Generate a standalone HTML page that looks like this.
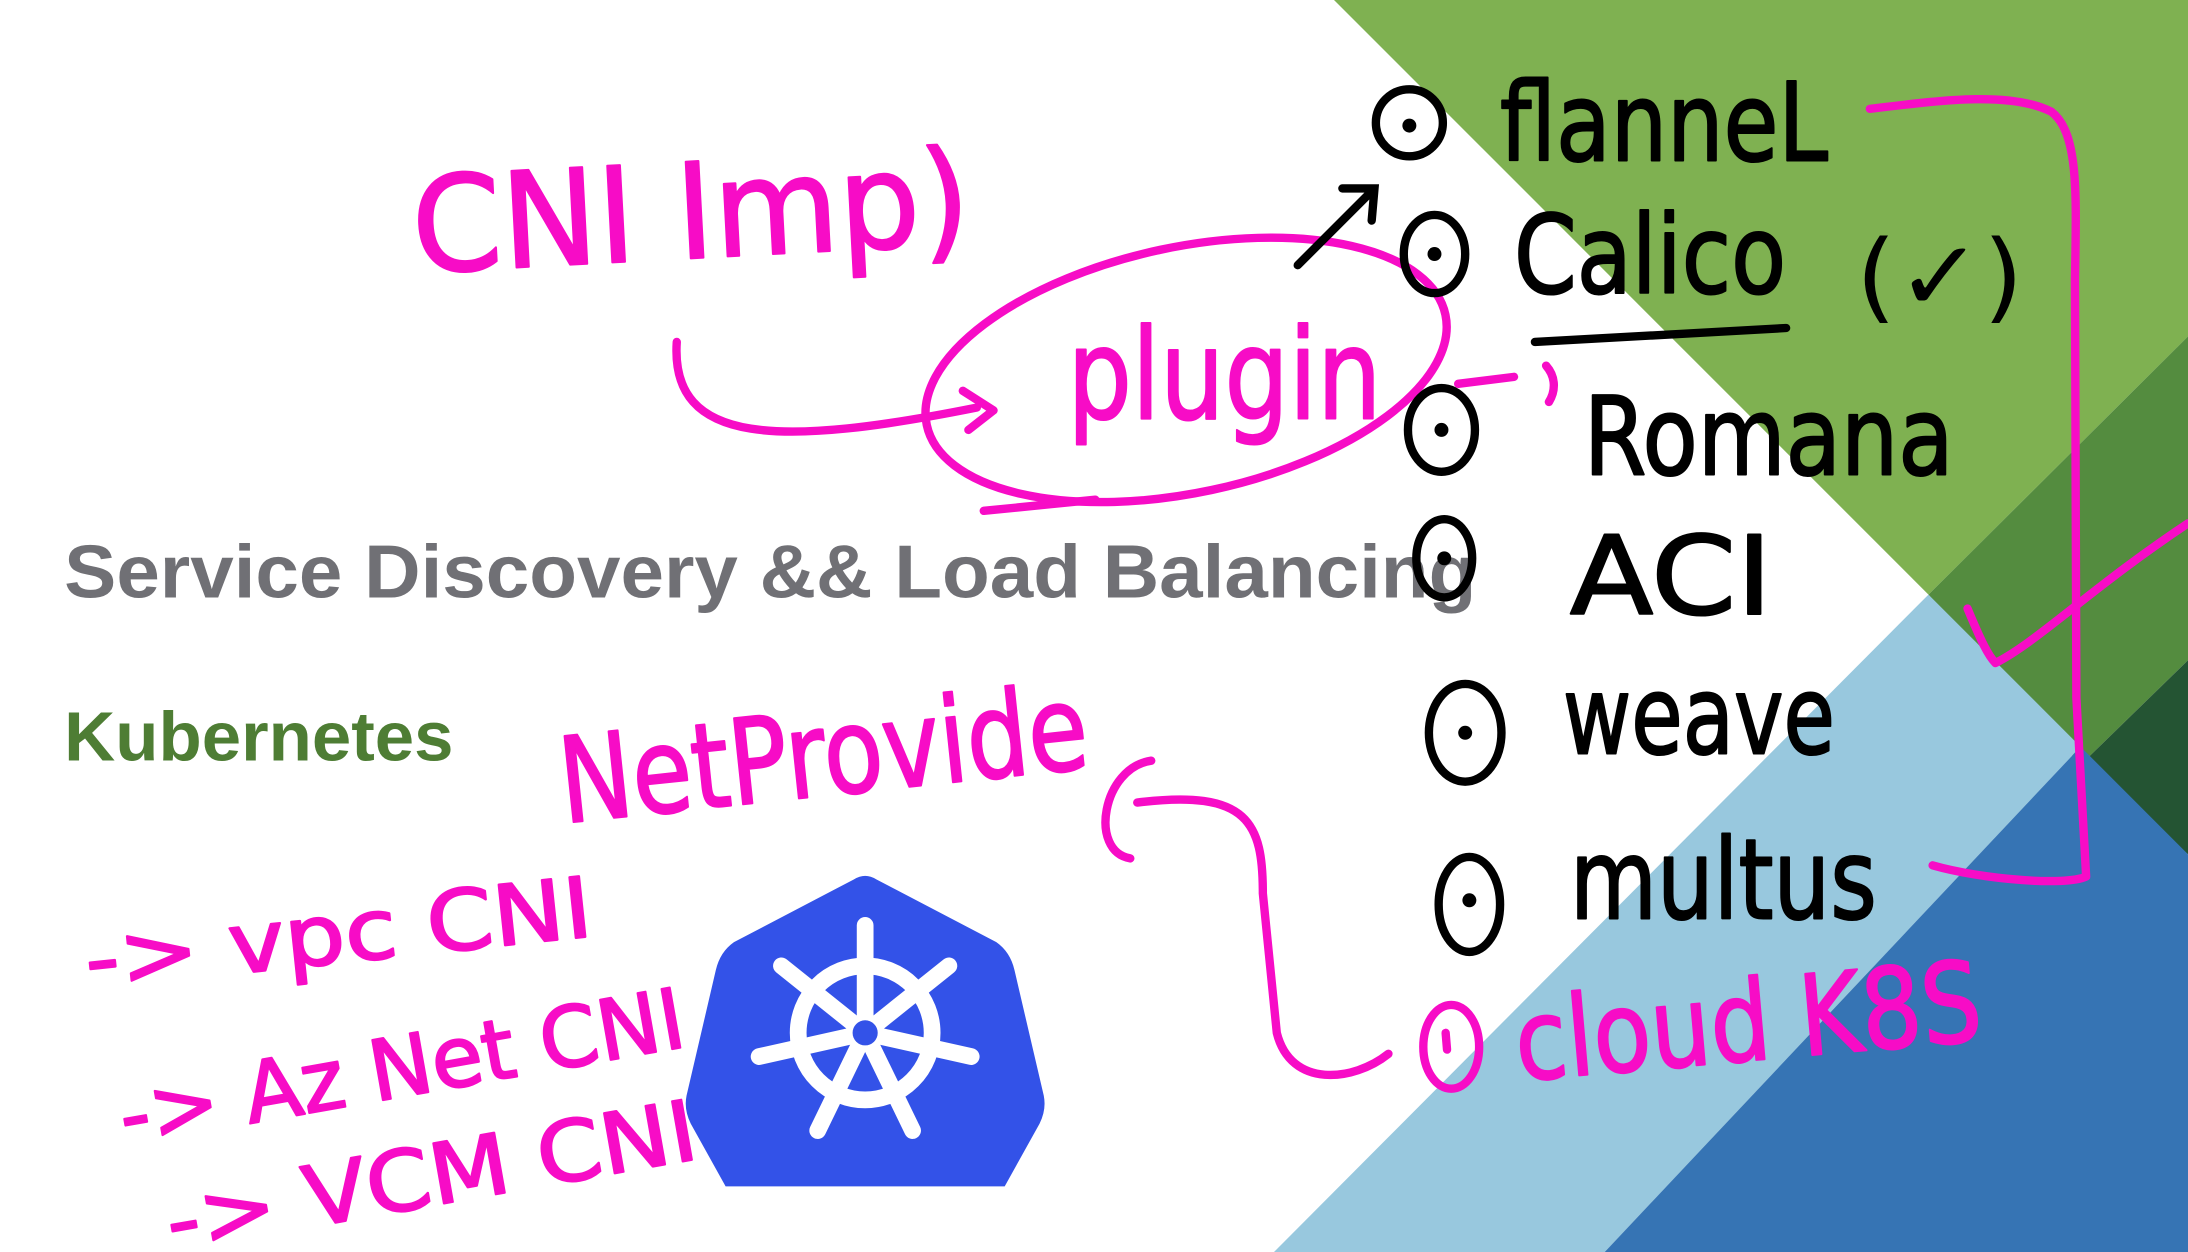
<!DOCTYPE html>
<html><head><meta charset="utf-8"><style>
html,body{margin:0;padding:0;background:#fff;}
svg{display:block;}
.hw{font-family:"DejaVu Sans","Liberation Sans",sans-serif;stroke-linejoin:round;stroke-linecap:round;}
</style></head><body>
<svg width="2188" height="1252" viewBox="0 0 1568 897" preserveAspectRatio="none" xmlns="http://www.w3.org/2000/svg">
<rect width="1568" height="897" fill="#fff"/>
<polygon points="956,0 1568,0 1568,241 1382,426" fill="#7fb151"/>
<polygon points="1382,426 1568,241 1568,473 1491,548" fill="#548c3f"/>
<polygon points="1491,548 1568,473 1568,612" fill="#245433"/>
<polygon points="1382,426 1491,535 1150,897 913,897" fill="#98c8de"/>
<polygon points="1491,535 1568,612 1568,897 1150,897" fill="#3674b4"/>

<text x="46" y="428" font-family="Liberation Sans,sans-serif" font-weight="bold" font-size="54" fill="#707075" textLength="1012" lengthAdjust="spacingAndGlyphs">Service Discovery &amp;&amp; Load Balancing</text>
<text x="46" y="545" font-family="Liberation Sans,sans-serif" font-weight="bold" font-size="50" fill="#4e7d34" textLength="279" lengthAdjust="spacingAndGlyphs">Kubernetes</text>

<!-- k8s logo -->
<path d="M612,630 Q620,625 628,630 L714,675 Q724,682 727,695 L748,785 Q750,795 745,805 L720,850 L520,850 L495,805 Q490,795 492,785 L513,695 Q516,682 526,675 Z" fill="#3352e8"/>
<g stroke="#fff" stroke-width="12" fill="none" stroke-linecap="round">
<circle cx="620" cy="740" r="48"/>
<line x1="620" y1="740" x2="620" y2="663"/>
<line x1="620" y1="740" x2="680" y2="692"/>
<line x1="620" y1="740" x2="696" y2="757"/>
<line x1="620" y1="740" x2="654" y2="810"/>
<line x1="620" y1="740" x2="586" y2="810"/>
<line x1="620" y1="740" x2="544" y2="757"/>
<line x1="620" y1="740" x2="560" y2="692"/>
</g>
<circle cx="620" cy="740" r="9" fill="#3352e8"/>

<!-- magenta strokes -->
<g fill="none" stroke="#f70cc6" stroke-width="6" stroke-linecap="round" stroke-linejoin="round">
<path d="M485,245 C480,320 560,320 700,292 M690,280 L712,294 L694,308"/>
<ellipse cx="850" cy="265" rx="190" ry="88" transform="rotate(-12 850 265)"/>
<path d="M705,366 L785,358"/>
<path d="M1045,275 L1085,270 M1108,262 C1115,270 1115,280 1110,288"/>
<path d="M1340,78 C1390,72 1440,65 1470,80 C1490,95 1488,140 1487,200 L1488,500 L1495,628 C1480,635 1420,630 1385,620"/>
<path d="M1410,436 C1420,460 1425,470 1430,475 C1460,460 1500,420 1568,375"/>
<path d="M825,545 C790,550 780,610 810,615 M815,575 C895,565 905,590 905,640 L915,740 C925,780 970,775 995,755"/>
<ellipse cx="1040" cy="750" rx="20" ry="30"/>
<path d="M1036,740 L1037,752"/>
</g>
<g class="hw" fill="#f70cc6" stroke="#f70cc6" stroke-width="1.5">
<text x="295" y="185" font-size="95" textLength="400" lengthAdjust="spacingAndGlyphs" transform="rotate(-3 495 150)">CNI Imp)</text>
<text x="765" y="300" font-size="90" textLength="225" lengthAdjust="spacingAndGlyphs">plugin</text>
<text x="400" y="570" font-size="85" textLength="380" lengthAdjust="spacingAndGlyphs" transform="rotate(-6 590 540)">NetProvide</text>
<text x="60" y="690" font-size="60" textLength="365" lengthAdjust="spacingAndGlyphs" transform="rotate(-6 240 670)">-&gt; vpc CNI</text>
<text x="82" y="785" font-size="60" textLength="410" lengthAdjust="spacingAndGlyphs" transform="rotate(-10 290 760)">-&gt; Az Net CNI</text>
<text x="115" y="865" font-size="60" textLength="385" lengthAdjust="spacingAndGlyphs" transform="rotate(-10 300 835)">-&gt; VCM CNI</text>
<text x="1085" y="760" font-size="80" textLength="335" lengthAdjust="spacingAndGlyphs" transform="rotate(-5 1250 730)">cloud K8S</text>
</g>

<!-- black strokes -->
<g fill="none" stroke="#000" stroke-width="6" stroke-linecap="round">
<path d="M930,190 L985,135 M962,135 L985,135 L983,158"/>
<ellipse cx="1010" cy="88" rx="24" ry="24"/>
<ellipse cx="1028" cy="182" rx="22" ry="28"/>
<ellipse cx="1033" cy="308" rx="24" ry="30"/>
<ellipse cx="1035" cy="400" rx="20" ry="28"/>
<ellipse cx="1050" cy="525" rx="26" ry="35"/>
<ellipse cx="1053" cy="648" rx="22" ry="34"/>
<path d="M1100,245 L1280,235"/>
</g>
<g fill="#000">
<circle cx="1010" cy="90" r="5"/><circle cx="1028" cy="182" r="5"/><circle cx="1033" cy="308" r="5"/>
<circle cx="1035" cy="400" r="5"/><circle cx="1050" cy="525" r="5"/><circle cx="1053" cy="645" r="5"/>
</g>
<g class="hw" fill="#000" stroke="#000" stroke-width="1.5">
<text x="1075" y="115" font-size="78" textLength="235" lengthAdjust="spacingAndGlyphs">flanneL</text>
<text x="1085" y="210" font-size="78" textLength="195" lengthAdjust="spacingAndGlyphs">Calico</text>
<text x="1330" y="222" font-size="70" font-weight="normal" stroke-width="0" textLength="120" lengthAdjust="spacingAndGlyphs">(✓)</text>
<text x="1135" y="340" font-size="78" textLength="265" lengthAdjust="spacingAndGlyphs">Romana</text>
<text x="1125" y="440" font-size="78" textLength="145" lengthAdjust="spacingAndGlyphs">ACI</text>
<text x="1120" y="540" font-size="78" textLength="195" lengthAdjust="spacingAndGlyphs">weave</text>
<text x="1125" y="658" font-size="80" textLength="220" lengthAdjust="spacingAndGlyphs">multus</text>
</g>
</svg>
</body></html>
